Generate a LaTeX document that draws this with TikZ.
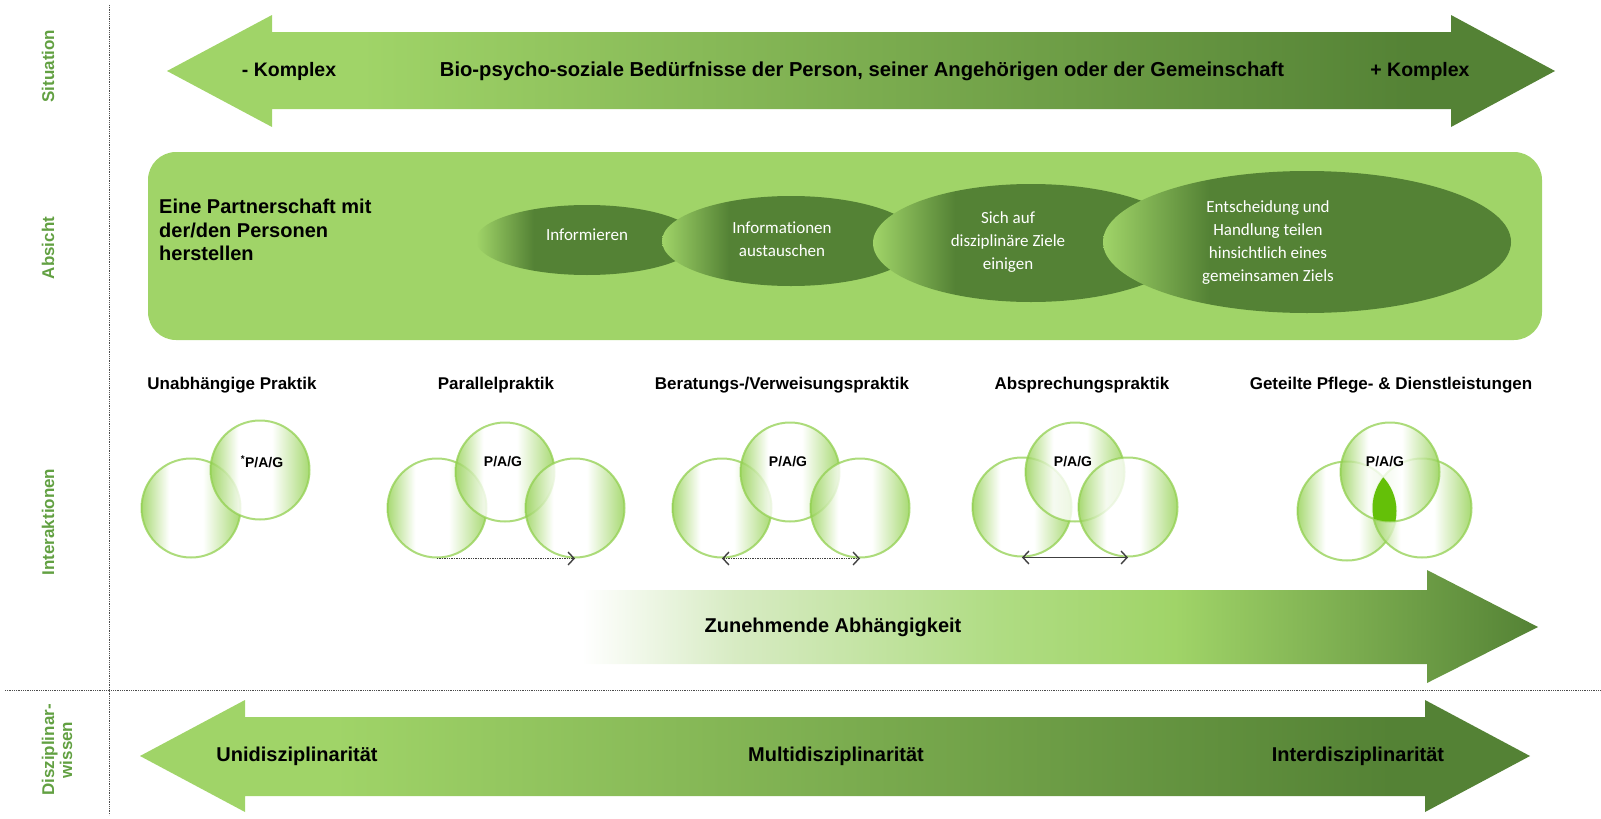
\documentclass[tikz,border=0pt]{standalone}
\usepackage{fontspec}
\setmainfont{Liberation Sans}
\newfontfamily\ellfont[Ligatures=NoCommon]{Carlito}
\usetikzlibrary{shapes.geometric,arrows.meta}

\definecolor{boxgreen}{RGB}{160,212,104}
\definecolor{darkgreen}{RGB}{84,130,53}
\definecolor{circgreen}{RGB}{146,208,80}
\definecolor{sidegreen}{RGB}{98,160,66}
\definecolor{lensgreen}{RGB}{100,192,8}
\definecolor{palegreen}{RGB}{215,235,195}
\definecolor{midgreen}{RGB}{175,220,130}

\pgfdeclarehorizontalshading{arrfade}{100bp}{color(0bp)=(boxgreen); color(32bp)=(boxgreen); color(70bp)=(darkgreen); color(100bp)=(darkgreen)}
\pgfdeclarehorizontalshading{depfade}{100bp}{color(0bp)=(white); color(25bp)=(white); color(33bp)=(palegreen); color(47bp)=(midgreen); color(56bp)=(boxgreen); color(75bp)=(darkgreen); color(100bp)=(darkgreen)}
\pgfdeclarehorizontalshading{ellfade}{100bp}{color(0bp)=(boxgreen); color(25bp)=(boxgreen); color(38bp)=(darkgreen); color(100bp)=(darkgreen)}
\pgfdeclarehorizontalshading{circfade}{100bp}{color(0bp)=(circgreen); color(25bp)=(circgreen); color(39bp)=(white); color(56bp)=(white); color(75bp)=(circgreen); color(100bp)=(circgreen)}

\tikzset{
  sidelabel/.style={rotate=90, text=sidegreen, align=center, font=\bfseries\fontsize{17}{18}\selectfont},
  bigtext/.style={inner sep=0pt, font=\bfseries\fontsize{19.5}{23}\selectfont},
  bartext/.style={inner sep=0pt, font=\bfseries\fontsize{20}{24}\selectfont},
  title/.style={inner sep=0pt, font=\bfseries\fontsize{17}{20}\selectfont},
  ell/.style={ellipse, shade, shading=ellfade, inner sep=0pt},
  elltext/.style={inner sep=0pt, text=white, align=center, font=\ellfont\fontsize{17}{23}\selectfont},
  circ/.style={circle, minimum size=99pt, inner sep=0pt, shade, shading=circfade, fill opacity=0.8,
    draw=circgreen, draw opacity=0.75, line width=2pt},
  pag/.style={inner sep=0pt, font=\bfseries\fontsize{14}{16}\selectfont},
  conn/.style={line width=1.4pt, draw=black!75, {Straight Barb[length=6pt,width=13pt]}-{Straight Barb[length=6pt,width=13pt]}},
  sep/.style={densely dotted, line width=0.8pt, draw=black!70}
}

\begin{document}
\begin{tikzpicture}[x=1pt,y=-1pt]
  \useasboundingbox (0,0) rectangle (1601,819);

  \draw[sep] (109,5) -- (109,815);
  \draw[sep] (5,690) -- (1601,690);

  \node[sidelabel] (sit) at (48,66) {Situation};
  \node[sidelabel] (abs) at (48,248) {Absicht};
  \node[sidelabel] (int) at (48,522) {Interaktionen};
  \node[sidelabel] (dis) at (57,750) {Disziplinar-\\wissen};

  \shade[shading=arrfade] (167,71) -- (272,15) -- (272,32) -- (1451,32) -- (1451,15) -- (1555,71)
    -- (1451,127) -- (1451,109) -- (272,109) -- (272,127) -- cycle;
  \node[bigtext] (kmin) at (289,71) {- Komplex};
  \node[bigtext, font=\bfseries\fontsize{20.2}{23}\selectfont] (need) at (862,71) {Bio-psycho-soziale Bedürfnisse der Person, seiner Angehörigen oder der Gemeinschaft};
  \node[bigtext] (kplus) at (1420,71) {+ Komplex};

  \fill[boxgreen, rounded corners=28pt] (148,152) rectangle (1542,340);
  \node[inner sep=0pt, anchor=west, align=left, font=\bfseries\fontsize{20}{23.5}\selectfont] (partner) at (159,230)
    {Eine Partnerschaft mit\\der/den Personen\\herstellen};

  \node[ell, minimum width=222pt, minimum height=70pt] (e1) at (587,240) {};
  \node[ell, minimum width=258pt, minimum height=90pt] (e2) at (791,241) {};
  \node[ell, minimum width=316pt, minimum height=118pt] (e3) at (1031,243) {};
  \node[ell, minimum width=408pt, minimum height=142pt] (e4) at (1307,242) {};
  \node[elltext] (t1) at (587,235) {Informieren};
  \node[elltext] (t2) at (782,239) {Informationen\\austauschen};
  \node[elltext] (t3) at (1008,242) {Sich auf\\disziplinäre Ziele\\einigen};
  \node[elltext] (t4) at (1268,243) {Entscheidung und\\Handlung teilen\\hinsichtlich eines\\gemeinsamen Ziels};

  \node[title] (ti-ua) at (232,385) {Unabhängige Praktik};
  \node[title] (ti-pa) at (496,385) {Parallelpraktik};
  \node[title] (ti-be) at (782,385) {Beratungs-/Verweisungspraktik};
  \node[title] (ti-ab) at (1082,385) {Absprechungspraktik};
  \node[title] (ti-ge) at (1391,385) {Geteilte Pflege- \& Dienstleistungen};

  \node[circ] (ua-l) at (191,508) {};
  \node[circ] (ua-m) at (260,470) {};
  \node[pag] at (262,462) {\textsuperscript{*}P/A/G};

  \node[circ] (pa-l) at (437,508) {};
  \node[circ] (pa-m) at (505,472) {};
  \node[circ] (pa-r) at (575,508) {};
  \node[pag] at (503,462) {P/A/G};
  \draw[conn, densely dotted, {}-{Straight Barb[length=6pt,width=13pt]}] (pa-l.south) -- (pa-r.south);

  \node[circ] (be-l) at (722,508) {};
  \node[circ] (be-m) at (790,472) {};
  \node[circ] (be-r) at (860,508) {};
  \node[pag] at (788,462) {P/A/G};
  \draw[conn, densely dotted] (be-l.south) -- (be-r.south);

  \node[circ] (ab-l) at (1022,507) {};
  \node[circ] (ab-m) at (1075,472) {};
  \node[circ] (ab-r) at (1128,507) {};
  \node[pag] at (1073,462) {P/A/G};
  \draw[conn] (ab-l.south) -- (ab-r.south);

  \node[circ] (ge-l) at (1347,511) {};
  \node[circ] (ge-r) at (1422,508) {};
  \node[circ] (ge-m) at (1390,472) {};
  \begin{scope}
    \clip (ge-l.center) circle (49.5pt);
    \clip (ge-r.center) circle (49.5pt);
    \fill[lensgreen] (ge-m.center) circle (49.5pt);
  \end{scope}
  \node[pag] at (1385,462) {P/A/G};

  \shade[shading=depfade] (582,590) -- (1427,590) -- (1427,570) -- (1538,627) -- (1427,683)
    -- (1427,664) -- (582,664) -- cycle;
  \node[bartext] (dep) at (833,627) {Zunehmende Abhängigkeit};

  \shade[shading=arrfade] (140,756) -- (245,700) -- (245,717) -- (1425,717) -- (1425,700) -- (1530,756)
    -- (1425,812) -- (1425,796) -- (245,796) -- (245,812) -- cycle;
  \node[bartext] (uni) at (297,756) {Unidisziplinarität};
  \node[bartext] (multi) at (836,756) {Multidisziplinarität};
  \node[bartext] (inter) at (1358,756) {Interdisziplinarität};
\end{tikzpicture}
\end{document}
